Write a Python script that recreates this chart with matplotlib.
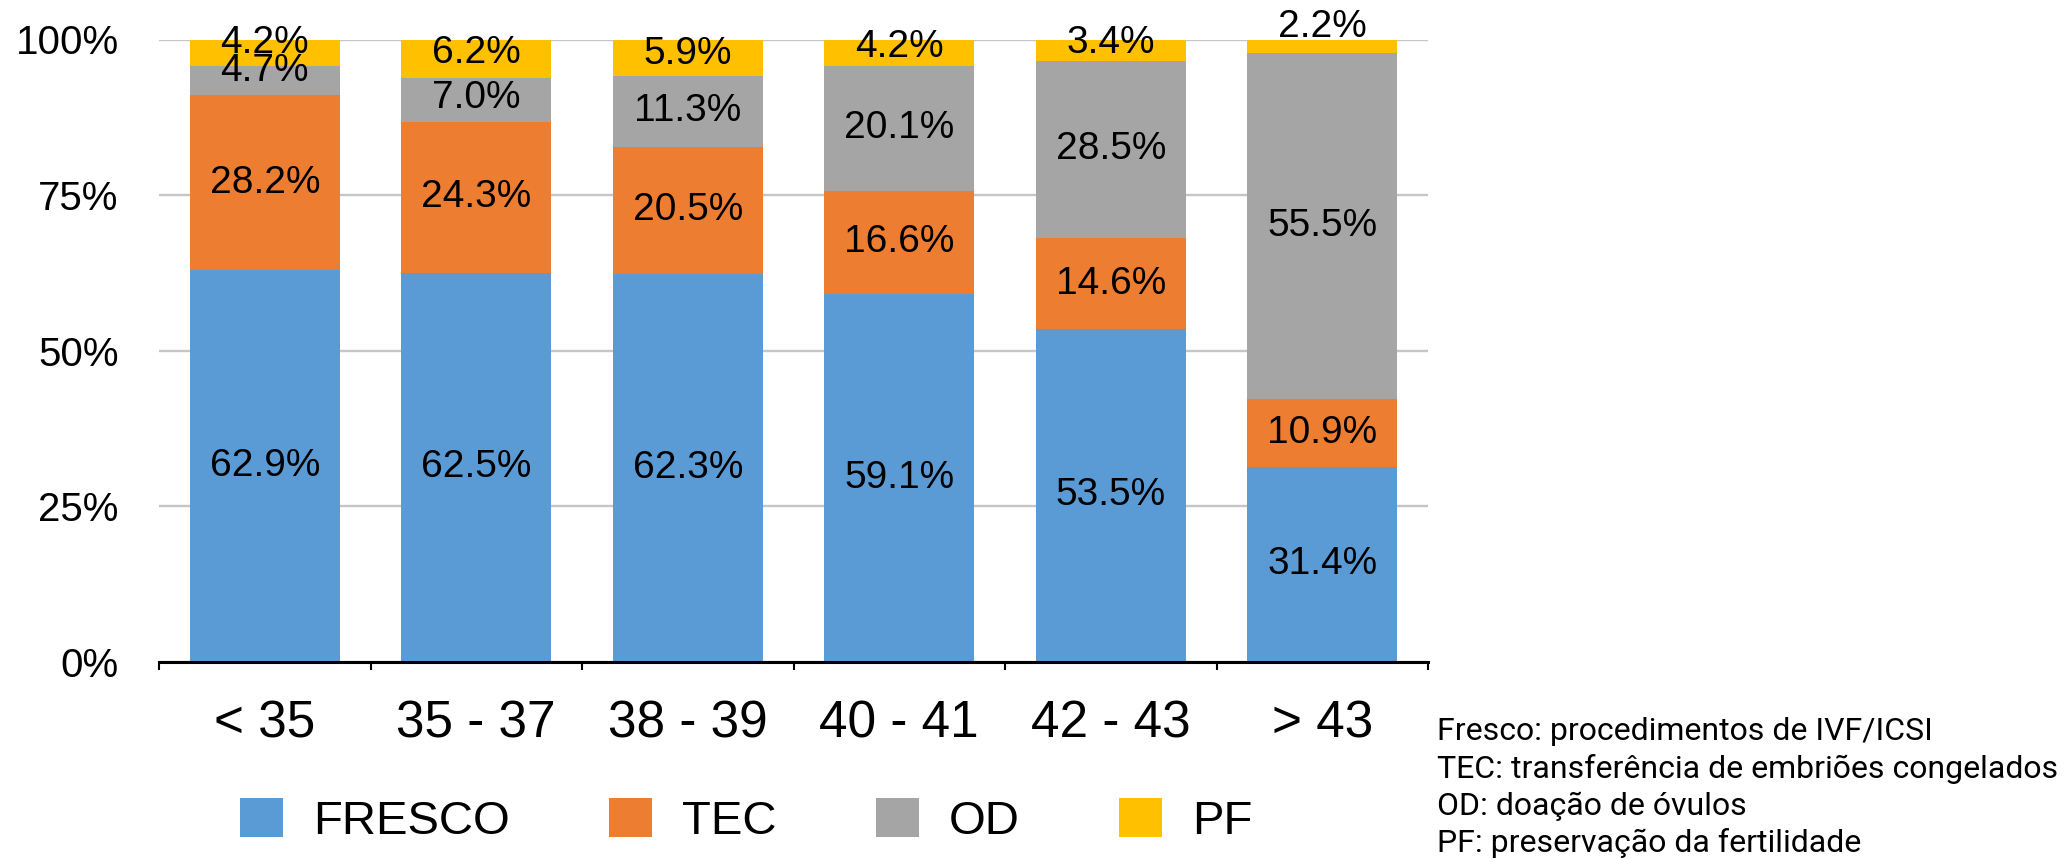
import numpy as np
import matplotlib
matplotlib.use("Agg")
import matplotlib.pyplot as plt

plt.rcParams['font.family'] = ['Liberation Sans', 'DejaVu Sans']

Categories = ["< 35", "35 - 37", "38 - 39", "40 - 41", "42 - 43", "> 43"]
Fresco = [62.9, 62.5, 62.3, 59.1, 53.5, 31.4]
TEC = [28.2, 24.3, 20.5, 16.6, 14.6, 10.9]
OD = [4.7, 7.0, 11.3, 20.1, 28.5, 55.5]
PF = [4.2, 6.2, 5.9, 4.2, 3.4, 2.2]
SeriesNames = ["FRESCO", "TEC", "OD", "PF"]
Notes = ["Fresco: procedimentos de IVF/ICSI",
         "TEC: transferência de embriões congelados",
         "OD: doação de óvulos",
         "PF: preservação da fertilidade"]

Colors = ["#5B9BD5", "#ED7D31", "#A5A5A5", "#FFC000"]
W, H = 2069, 859

fig = plt.figure(figsize=(W/100, H/100), dpi=100)
ax = fig.add_axes([159/W, 197/H, (1428-159)/W, (662-39.5)/H])

x = np.arange(len(Categories))
AllSeries = [Fresco, TEC, OD, PF]
Bottom = np.zeros(len(Categories))
Bars = []
for vals, name, col in zip(AllSeries, SeriesNames, Colors):
    vals = np.array(vals)
    ax.bar(x, vals, 0.71, bottom=Bottom, color=col, label=name, zorder=2)
    Bars.append((vals, Bottom.copy()))
    Bottom = Bottom + vals

# Excel moves the small top labels up a bit (points)
Nudge = [np.zeros(6), np.zeros(6),
         np.array([-6.5, -1.5, 0, 0, 0, 0]),
         np.array([-7, -4, -3, -4, -5, -14])]
for k, (vals, bot) in enumerate(Bars):
    for i in range(len(vals)):
        ax.annotate("%.1f%%" % vals[i], (x[i], bot[i] + vals[i]/2),
                    xytext=(0, -Nudge[k][i]), textcoords='offset points',
                    ha='center', va='center', fontsize=28, color='black', zorder=3)

ax.set_xlim(-0.5, len(Categories) - 0.5)
ax.set_ylim(0, 100)
ax.set_yticks([0, 25, 50, 75, 100])
ax.set_yticklabels(["0%", "25%", "50%", "75%", "100%"])
ax.tick_params(axis='y', length=0, labelsize=29, pad=29)
ax.yaxis.grid(True, color='#c6c6c6', lw=1.7, zorder=0)
ax.set_axisbelow(True)

ax.set_xticks(x)
ax.set_xticklabels(Categories)
ax.tick_params(axis='x', which='major', length=0, labelsize=37, pad=27)
ax.set_xticks(np.arange(-0.5, len(Categories)), minor=True)
ax.tick_params(axis='x', which='minor', length=6, width=1.5, direction='out', color='black')

for s in ['top', 'right', 'left']:
    ax.spines[s].set_visible(False)
ax.spines['bottom'].set_linewidth(2.2)
ax.spines['bottom'].set_color('black')

fig.legend(loc='center', bbox_to_anchor=(746/W, 1 - 821/H), ncol=4, frameon=False,
           fontsize=34, handlelength=0.91, handleheight=0.91, handletextpad=0.64,
           columnspacing=2.1)

for j, line in enumerate(Notes):
    fig.text(1437/W, 1 - (740 + 37.5*j)/H, line, fontsize=23, family='Roboto',
             ha='left', va='baseline', color='black')

fig.savefig("out.png", dpi=100)
